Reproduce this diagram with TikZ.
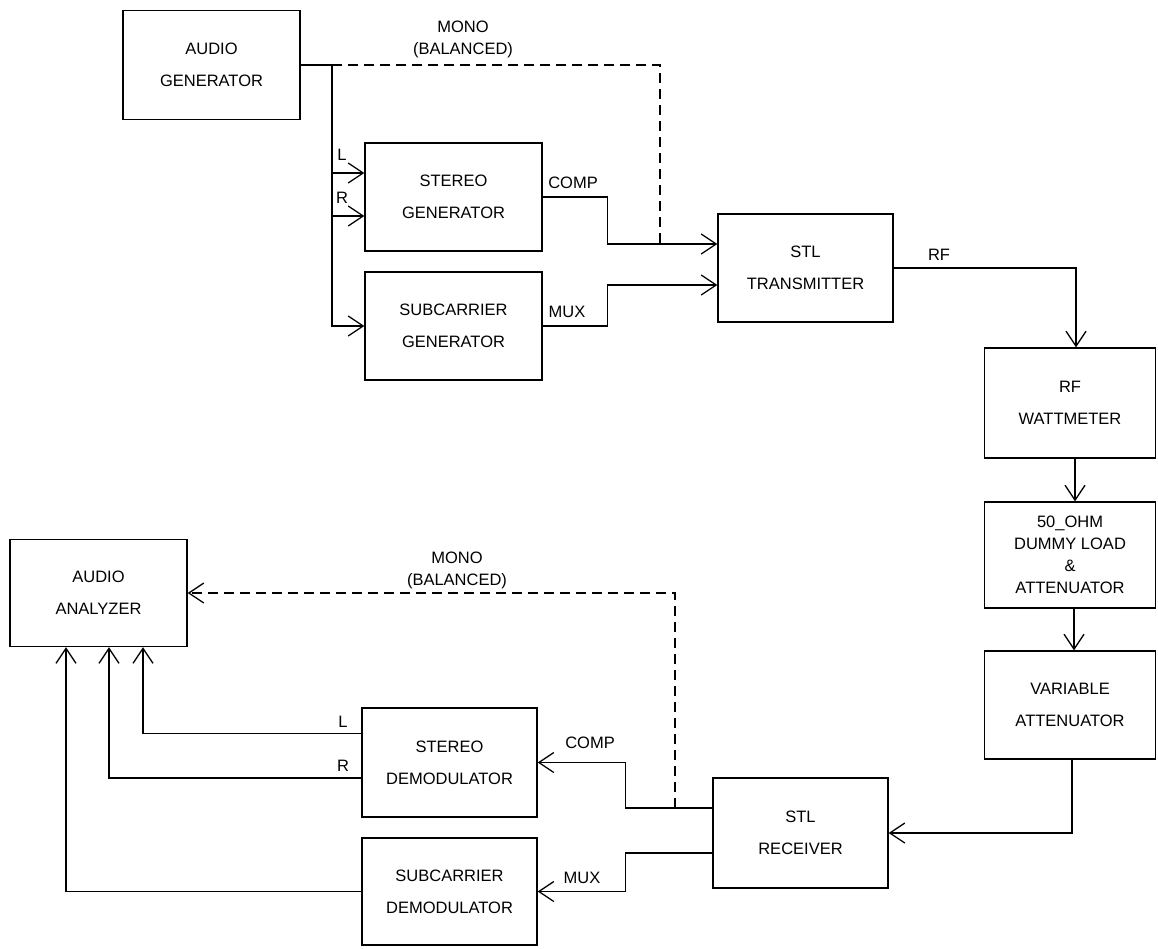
\documentclass[tikz,border=0pt]{standalone}
\usepackage{fontspec}
\setmainfont{Liberation Sans}
\usetikzlibrary{arrows.meta}
\newcommand{\boxfont}{\fontsize{16.5}{32}\selectfont}
\newcommand{\tightfont}{\fontsize{16.5}{22}\selectfont}
\tikzstyle{unitbox} = [
    draw,
    line width=1.3pt,
    minimum width=175pt,
    minimum height=108pt,
    align=center,
    inner sep=0pt,
    font=\boxfont
    ]
\tikzstyle{wire} = [line width=1.3pt]
\tikzstyle{sig} = [wire, -{Straight Barb[length=15pt,width=20pt]}]
\tikzstyle{lbl} = [inner sep=0pt, align=center, font=\tightfont]

\begin{document}
\begin{tikzpicture}[x=1pt, y=-1pt]
\useasboundingbox (0,0) rectangle (1158,948);

% sending side
\node[unitbox, minimum width=177pt, minimum height=109pt] (agen) at (211.5,65) {AUDIO\\GENERATOR};
\node[unitbox, minimum width=177pt] (sgen) at (453.5,197) {STEREO\\GENERATOR};
\node[unitbox, minimum width=177pt] (subgen) at (453.5,326) {SUBCARRIER\\GENERATOR};
\node[unitbox] (stltx) at (805.5,268) {STL\\TRANSMITTER};
\node[unitbox, minimum width=171pt, minimum height=110pt] (watt) at (1070,403) {RF\\WATTMETER};
\node[unitbox, minimum width=171pt, minimum height=106pt, font=\tightfont] (dummy) at (1070,555) {50\_OHM\\DUMMY LOAD\\\&\\ATTENUATOR};
\node[unitbox, minimum width=171pt] (varatt) at (1070,705) {VARIABLE\\ATTENUATOR};

% receiving side
\node[unitbox, minimum height=110pt] (stlrx) at (800.5,833) {STL\\RECEIVER};
\node[unitbox, minimum height=109pt] (sdemod) at (449.5,762.5) {STEREO\\DEMODULATOR};
\node[unitbox, minimum height=107pt] (subdemod) at (449.5,891.5) {SUBCARRIER\\DEMODULATOR};
\node[unitbox, minimum width=177pt, minimum height=107pt] (analyzer) at (98.5,593) {AUDIO\\ANALYZER};

% junctions
\coordinate (jA) at (332,65);
\coordinate (jB) at (660,244);
\coordinate (jC) at (675,808);
\coordinate (sgL) at ([yshift=24pt]sgen.west);
\coordinate (sgR) at ([yshift=-19pt]sgen.west);
\coordinate (txC) at ([yshift=24pt]stltx.west);
\coordinate (txM) at ([yshift=-17pt]stltx.west);
\coordinate (rxC) at ([yshift=25pt]stlrx.west);
\coordinate (rxM) at ([yshift=-20pt]stlrx.west);

% generator wiring
\draw[wire] (agen.east) -- (jA);
\draw[sig] (jA) |- (subgen.west);
\draw[sig] (jA |- sgL) -- (sgL);
\draw[sig] (jA |- sgR) -- (sgR);
\draw[wire, dash pattern=on 10pt off 6pt] (jA) -| (jB);
\draw[sig] (sgen.east) -- ++(65,0) |- (txC);
\draw[sig] (subgen.east) -- ++(65,0) |- (txM);

% rf chain
\draw[sig] (stltx.east) -| ([xshift=6pt]watt.north);
\draw[sig] ([xshift=5pt]watt.south) -- ([xshift=5pt]dummy.north);
\draw[sig] ([xshift=4pt]dummy.south) -- ([xshift=4pt]varatt.north);
\draw[sig] ([xshift=2pt]varatt.south) |- (stlrx.east);

% receiver wiring
\draw[sig] (rxC) -- ++(-87,0) |- (sdemod.east);
\draw[sig] (rxM) -- ++(-87,0) |- (subdemod.east);
\draw[sig, dash pattern=on 10pt off 6pt] (jC) |- (analyzer.east);
\draw[sig] ([yshift=29pt]sdemod.west) -| ([xshift=44.5pt]analyzer.south);
\draw[sig] ([yshift=-15.5pt]sdemod.west) -| ([xshift=10.5pt]analyzer.south);
\draw[sig] (subdemod.west) -| ([xshift=-32.5pt]analyzer.south);

% labels
\node[lbl] (monoT) at (463,39) {MONO\\(BALANCED)};
\node[lbl] (lblL) at (342,155) {L};
\node[lbl] (lblR) at (342,198) {R};
\node[lbl] (compT) at (573,183) {COMP};
\node[lbl] (muxT) at (567,312) {MUX};
\node[lbl] (rfT) at (939,255) {RF};
\node[lbl] (monoB) at (457,570) {MONO\\(BALANCED)};
\node[lbl] (lblL2) at (343,722) {L};
\node[lbl] (lblR2) at (343,766) {R};
\node[lbl] (compB) at (590,743) {COMP};
\node[lbl] (muxB) at (582,878) {MUX};
\end{tikzpicture}
\end{document}
